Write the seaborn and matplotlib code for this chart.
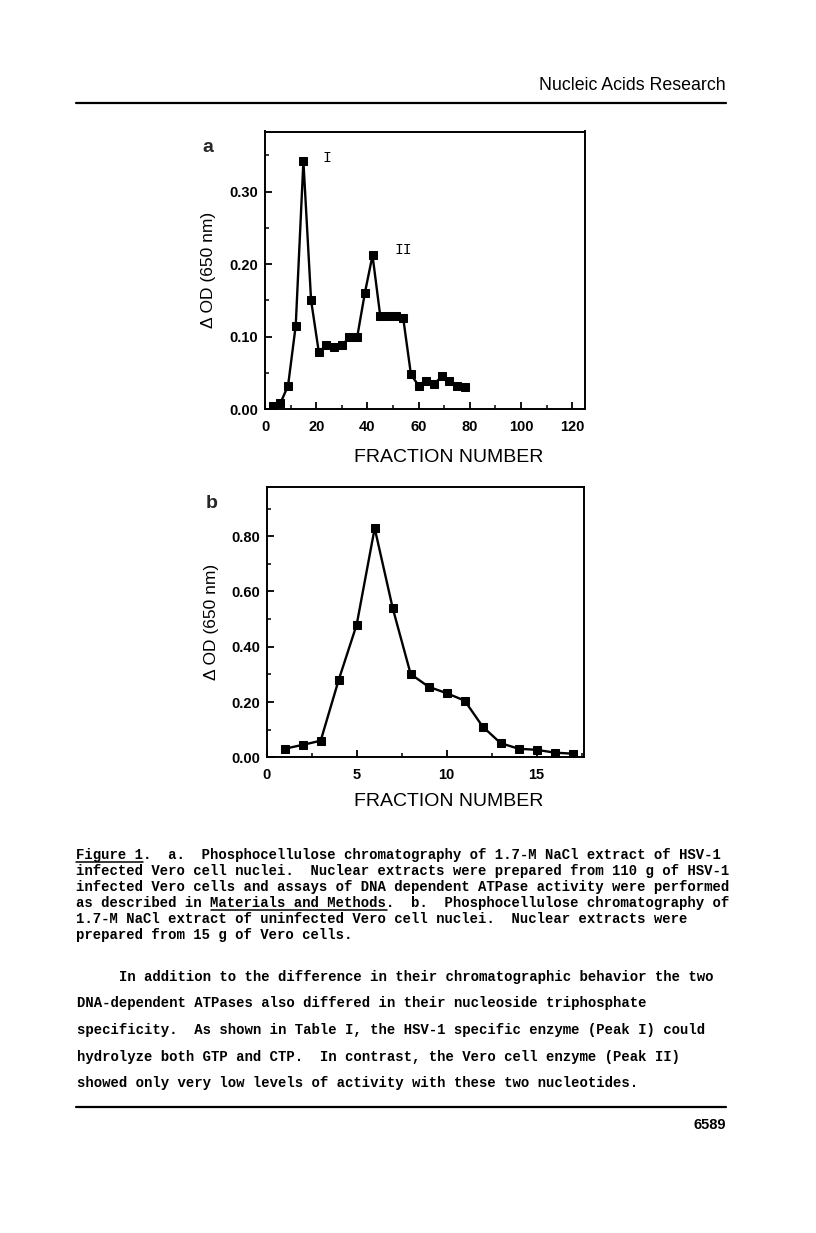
import matplotlib
matplotlib.use("Agg")
import matplotlib.pyplot as plt
from matplotlib.lines import Line2D
from matplotlib.ticker import MultipleLocator, FormatStrFormatter
import seaborn as sns
import pandas as pd

# ---------------- data ----------------
frac_a = [3, 6, 9, 12, 15, 18, 21, 24, 27, 30, 33, 36, 39, 42, 45, 48, 51, 54,
          57, 60, 63, 66, 69, 72, 75, 78]
od_a = [0.004, 0.008, 0.032, 0.115, 0.342, 0.150, 0.079, 0.088, 0.086, 0.088,
        0.099, 0.099, 0.160, 0.212, 0.129, 0.129, 0.128, 0.125, 0.048, 0.032,
        0.038, 0.034, 0.045, 0.038, 0.032, 0.031]

frac_b = list(range(1, 18))
od_b = [0.031, 0.045, 0.060, 0.280, 0.480, 0.829, 0.540, 0.301, 0.255, 0.232,
        0.205, 0.111, 0.051, 0.031, 0.027, 0.017, 0.013]

peak_labels = ["I", "II"]
peak_pos = [(24.0, 0.347), (53.9, 0.219)]

xlabel = "FRACTION NUMBER"
ylabel = "\u0394 OD (650 nm)"
header = "Nucleic Acids Research"
page_no = "6589"

caption = [
    "Figure 1.  a.  Phosphocellulose chromatography of 1.7-M NaCl extract of HSV-1",
    "infected Vero cell nuclei.  Nuclear extracts were prepared from 110 g of HSV-1",
    "infected Vero cells and assays of DNA dependent ATPase activity were performed",
    "as described in Materials and Methods.  b.  Phosphocellulose chromatography of",
    "1.7-M NaCl extract of uninfected Vero cell nuclei.  Nuclear extracts were",
    "prepared from 15 g of Vero cells.",
]
body = [
    "     In addition to the difference in their chromatographic behavior the two",
    "DNA-dependent ATPases also differed in their nucleoside triphosphate",
    "specificity.  As shown in Table I, the HSV-1 specific enzyme (Peak I) could",
    "hydrolyze both GTP and CTP.  In contrast, the Vero cell enzyme (Peak II)",
    "showed only very low levels of activity with these two nucleotides.",
]

# ---------------- style ----------------
sns.set_theme(style="ticks")
plt.rcParams["font.family"] = ["Liberation Sans", "DejaVu Sans"]
plt.rcParams["axes.linewidth"] = 1.4

W, H = 816, 1233
fig = plt.figure(figsize=(W / 100, H / 100), dpi=100)
fig.patch.set_facecolor("white")


def fx(x):
    return x / W


def fy(y):
    return 1 - y / H


def style_axes(ax):
    for s in ax.spines.values():
        s.set_linewidth(1.4)
        s.set_color("black")
    ax.tick_params(which="major", direction="in", length=5, width=1.3,
                   colors="black", labelsize=10.5, top=False, right=False)
    ax.tick_params(which="minor", direction="in", length=3, width=1.1,
                   colors="black", top=False, right=False)
    ax.tick_params(axis="y", pad=5)
    ax.tick_params(axis="x", pad=8)
    for lab in ax.get_xticklabels() + ax.get_yticklabels():
        lab.set_fontweight("bold")
    ax.set_facecolor("white")
    ax.grid(False)


# panel a
axa = fig.add_axes([fx(265), fy(409), (585 - 265) / W, (409 - 131.5) / H])
dfa = pd.DataFrame({"frac": frac_a, "od": od_a})
sns.lineplot(data=dfa, x="frac", y="od", ax=axa, color="black", linewidth=1.7,
             marker="s", markersize=6, markeredgecolor="black", sort=False)
axa.set_xlim(0, 125)
axa.set_ylim(0, 0.383)
axa.xaxis.set_major_locator(MultipleLocator(20))
axa.xaxis.set_minor_locator(MultipleLocator(10))
axa.yaxis.set_major_locator(MultipleLocator(0.10))
axa.yaxis.set_minor_locator(MultipleLocator(0.05))
axa.yaxis.set_major_formatter(FormatStrFormatter("%.2f"))
style_axes(axa)
for lab, (px, py) in zip(peak_labels, peak_pos):
    axa.text(px, py, lab, family="Liberation Mono", fontsize=10.5,
             ha="center", va="center", color="black")

# panel b
axb = fig.add_axes([fx(266.7), fy(757.3), (584 - 266.7) / W, (757.3 - 486.7) / H])
dfb = pd.DataFrame({"frac": frac_b, "od": od_b})
sns.lineplot(data=dfb, x="frac", y="od", ax=axb, color="black", linewidth=1.7,
             marker="s", markersize=6, markeredgecolor="black", sort=False)
axb.set_xlim(0, 17.63)
axb.set_ylim(0, 0.979)
axb.xaxis.set_major_locator(MultipleLocator(5))
axb.xaxis.set_minor_locator(MultipleLocator(2.5))
axb.yaxis.set_major_locator(MultipleLocator(0.20))
axb.yaxis.set_minor_locator(MultipleLocator(0.10))
axb.yaxis.set_major_formatter(FormatStrFormatter("%.2f"))
style_axes(axb)

for ax, top, bot, xl_y in [(axa, 131.5, 409, 457), (axb, 486.7, 757.3, 802)]:
    hpx = bot - top
    ax.set_xlabel(xlabel, fontsize=14, color="black")
    ax.xaxis.label.set_va("center")
    ax.xaxis.set_label_coords(0.575, -(xl_y - bot) / hpx)
    ax.set_ylabel(ylabel, fontsize=12.5, color="black")
    ax.yaxis.label.set_va("center")
    ax.yaxis.set_label_coords((209 - 265) / 320, 0.5)

# panel letters
fig.text(fx(208), fy(148), "a", fontsize=14, fontweight="bold", ha="center", va="center")
fig.text(fx(212), fy(503), "b", fontsize=14, fontweight="bold", ha="center", va="center")

# header and rules
fig.text(fx(726), fy(85), header, fontsize=12.8, ha="right", va="center", color="black")
fig.add_artist(Line2D([fx(76), fx(726)], [fy(103), fy(103)], color="black", lw=1.6,
                      transform=fig.transFigure))
fig.add_artist(Line2D([fx(76), fx(726)], [fy(1107), fy(1107)], color="black", lw=1.6,
                      transform=fig.transFigure))
fig.text(fx(726), fy(1125), page_no, fontsize=10.5, fontweight="bold", ha="right",
         va="center", color="black")

# caption
fs = 10.1
cw = fs * 100 / 72 * 0.6
x0 = 76
for i, line in enumerate(caption):
    base = 859 + 16 * i
    fig.text(fx(x0), fy(base), line, family="Liberation Mono", fontweight="bold",
             fontsize=fs, ha="left", va="baseline", color="black")
# underlines
for (li, start, n) in [(0, 0, 8), (3, 16, 21)]:
    base = 859 + 16 * li + 2.5
    fig.add_artist(Line2D([fx(x0 + start * cw), fx(x0 + (start + n) * cw)],
                          [fy(base), fy(base)], color="black", lw=1.1,
                          transform=fig.transFigure))

# body text
for i, line in enumerate(body):
    base = 981 + 26.5 * i
    fig.text(fx(77), fy(base), line, family="Liberation Mono", fontweight="bold",
             fontsize=fs, ha="left", va="baseline", color="black")

fig.savefig("out.png", dpi=100, facecolor="white")
